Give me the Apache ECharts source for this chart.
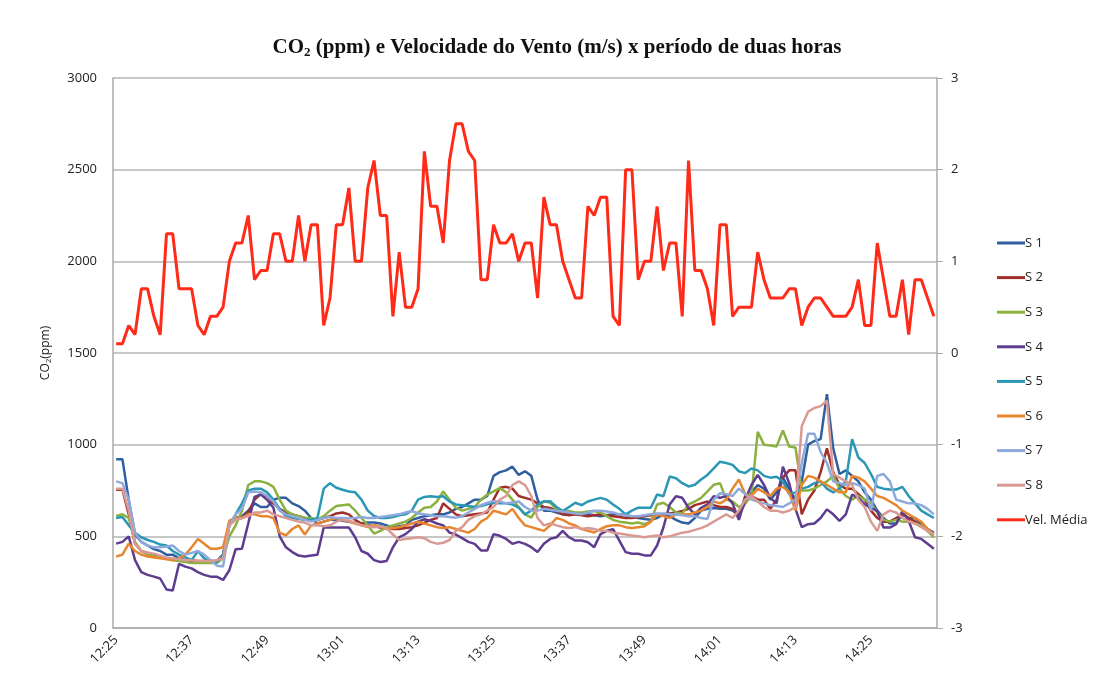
<!DOCTYPE html>
<html>
<head>
<meta charset="utf-8">
<script src="https://cdn.jsdelivr.net/npm/echarts@6/dist/echarts.min.js"></script>
<style>
html,body{margin:0;padding:0;background:#fff;}
#chart{width:1114px;height:686px;}
</style>
</head>
<body>
<div id="chart"></div>
<script>
// Categories: one per minute from 12:25 to 14:35
var times = [];
(function(){ for (var m = 12*60+25; m <= 14*60+35; m++) { var h = Math.floor(m/60), mm = m%60; times.push(h + ':' + (mm<10?'0':'') + mm); } })();

var seriesNames = ['S 1','S 2','S 3','S 4','S 5','S 6','S 7','S 8','Vel. Média'];

var s1 = [920,920,700,510,470,450,430,420,400,400,380,370,365,360,360,360,360,400,560,600,610,640,680,660,660,700,710,710,680,665,640,600,
570,580,590,590,585,580,575,570,575,575,570,560,550,555,560,590,600,610,615,620,620,630,650,660,680,700,700,720,830,850,860,880,
835,855,830,700,640,640,630,620,620,620,625,620,615,610,615,620,620,615,610,600,595,590,600,620,610,590,575,570,600,640,650,655,650,
650,640,620,680,740,780,760,700,740,820,760,700,800,1000,1020,1030,1275,980,840,860,830,800,740,700,640,600,570,570,620,600,600,570,540,520];

var s2 = [754,754,620,460,420,410,400,390,380,375,370,370,370,365,365,365,365,400,580,600,600,630,700,730,720,680,650,630,620,610,600,590,
590,600,610,625,630,620,590,570,560,555,548,545,540,540,545,550,560,575,590,600,680,650,620,610,615,620,625,630,700,765,770,760,
720,710,700,680,660,655,640,620,615,620,615,610,615,620,615,610,605,600,600,605,610,615,620,620,625,630,638,650,670,680,690,670,660,
660,650,600,720,720,700,700,650,700,820,860,860,620,700,750,850,980,850,780,760,760,730,700,640,600,580,580,600,620,600,580,560,530,510];

var s3 = [611,620,600,470,420,400,390,385,380,370,365,360,355,355,355,355,355,380,500,560,640,780,800,800,790,770,700,640,620,610,600,600,
590,610,640,665,670,674,640,600,560,515,530,550,560,570,580,600,630,656,660,690,745,700,656,640,650,660,700,728,745,763,740,700,
660,620,602,660,692,683,650,640,638,630,630,635,638,630,610,590,580,575,570,575,566,580,674,683,660,630,625,674,690,710,745,781,790,
700,690,660,680,720,1070,1000,995,990,1078,990,985,750,750,760,780,800,830,760,720,700,720,700,680,630,590,580,590,580,580,570,560,530,495];

var s4 = [460,470,500,370,305,290,280,270,210,205,350,335,325,305,290,280,280,262,315,430,432,570,715,728,700,656,500,440,414,395,390,396,
400,548,548,548,548,548,495,420,405,370,360,365,440,495,512,540,580,593,584,570,560,520,510,490,470,459,423,423,512,503,486,459,
470,459,441,414,459,486,495,530,495,477,477,468,441,512,530,539,477,414,405,405,396,396,450,548,674,719,710,656,620,656,674,719,710,
720,680,590,700,780,835,780,710,680,880,790,650,550,566,570,600,647,620,584,620,728,710,674,656,638,548,548,566,638,584,495,486,459,432];

var s5 = [600,605,560,520,495,480,470,455,450,420,400,385,370,420,380,365,360,400,560,620,680,750,760,760,740,700,650,610,600,595,590,590,
600,760,790,765,754,745,740,700,640,611,600,600,605,615,620,640,700,715,719,715,719,690,674,670,665,660,665,675,683,680,680,674,
656,620,640,674,690,692,660,638,660,683,670,690,700,710,700,674,650,620,640,656,656,656,728,719,826,817,790,772,781,810,835,871,907,
900,890,855,845,870,860,830,820,825,800,730,740,760,770,790,800,760,740,760,800,1030,930,900,840,770,760,755,755,770,720,680,640,620,600];

var s6 = [390,400,460,420,400,390,385,380,375,370,380,400,440,485,460,432,432,440,585,600,600,620,620,610,610,600,520,505,540,560,510,560,
570,580,590,600,590,580,570,560,550,560,555,540,545,550,560,570,580,570,560,550,545,550,540,530,520,540,580,600,640,630,620,650,
600,560,550,540,530,560,600,590,570,560,540,530,521,540,555,560,560,550,545,550,555,580,620,610,600,620,620,620,630,640,660,690,680,
700,760,810,730,720,760,740,720,760,770,740,640,780,830,820,800,780,760,740,740,830,820,800,760,720,710,690,670,640,620,600,580,540,510];

var s7 = [800,790,700,520,470,450,440,440,445,450,420,400,410,420,400,370,340,335,560,620,650,740,745,740,720,690,640,620,610,600,590,580,
590,600,605,600,600,598,600,605,600,600,605,610,615,620,630,638,625,620,615,610,610,605,602,610,630,650,670,683,692,690,680,685,
690,660,640,640,650,645,640,635,630,625,620,630,640,640,635,630,620,615,610,610,615,620,625,625,620,620,615,610,610,600,595,700,735,
730,720,760,730,700,690,680,670,665,660,680,700,900,1060,1060,960,900,800,790,780,790,780,760,640,830,840,800,700,690,680,680,670,650,620];

var s8 = [760,760,640,460,420,410,405,395,385,380,375,370,370,365,365,365,370,380,560,590,600,610,630,630,640,620,610,600,590,580,575,560,
560,555,560,580,590,585,575,560,555,550,555,545,510,480,485,490,495,490,470,460,465,480,530,550,590,610,620,640,660,700,720,780,
800,780,720,600,560,570,560,550,545,550,540,545,540,530,530,520,515,510,505,500,495,500,505,495,500,510,520,525,535,545,560,580,600,
620,600,640,700,720,690,660,640,640,630,640,660,1100,1180,1200,1210,1240,840,820,800,780,700,660,580,530,620,640,630,600,580,570,550,530,510];

var velMedia = [0.1,0.1,0.3,0.2,0.7,0.7,0.4,0.2,1.3,1.3,0.7,0.7,0.7,0.3,0.2,0.4,0.4,0.5,1.0,1.2,1.2,1.5,0.8,0.9,0.9,1.3,1.3,1.0,1.0,1.5,1.0,1.4,1.4,
0.3,0.6,1.4,1.4,1.8,1.0,1.0,1.8,2.1,1.5,1.5,0.4,1.1,0.5,0.5,0.7,2.2,1.6,1.6,1.2,2.1,2.5,2.5,2.2,2.1,0.8,0.8,1.4,1.2,1.2,1.3,1.0,
1.2,1.2,0.6,1.7,1.4,1.4,1.0,0.8,0.6,0.6,1.6,1.5,1.7,1.7,0.4,0.3,2.0,2.0,0.8,1.0,1.0,1.6,0.9,1.2,1.2,0.4,2.1,0.9,0.9,0.7,0.3,1.4,1.4,
0.4,0.5,0.5,0.5,1.1,0.8,0.6,0.6,0.6,0.7,0.7,0.3,0.5,0.6,0.6,0.5,0.4,0.4,0.4,0.5,0.8,0.3,0.3,1.2,0.8,0.4,0.4,0.8,0.2,0.8,0.8,0.6,0.4];

var leftTicks = {min:0, max:3000, interval:500};
var rightTicks = {min:-3, max:3, interval:1};

var colors = ['#2F5F9E','#A22E29','#8BB13E','#5E3D8F','#2A98B4','#E8862F','#8EA9DB','#DA9A94','#FF2A17'];
var data = [s1,s2,s3,s4,s5,s6,s7,s8];

var series = [];
for (var k = 0; k < 8; k++) {
  series.push({
    name: seriesNames[k], type: 'line', yAxisIndex: 0, data: data[k],
    symbol: 'none', lineStyle: {width: 2.5, color: colors[k]}, itemStyle: {color: colors[k]},
    animation: false
  });
}
series.push({
  name: seriesNames[8], type: 'line', yAxisIndex: 1, data: velMedia,
  symbol: 'none', lineStyle: {width: 3, color: colors[8]}, itemStyle: {color: colors[8]},
  animation: false, z: 5
});

var chart = echarts.init(document.getElementById('chart'), null, {renderer: 'canvas'});
chart.setOption({
  backgroundColor: '#ffffff',
  animation: false,
  title: {
    text: '{a|CO}{s|2}{a| (ppm) e Velocidade do Vento (m/s) x período de duas horas}',
    left: 'center', top: 31,
    textStyle: {
      rich: {
        a: {fontFamily: 'Liberation Serif', fontWeight: 'bold', fontSize: 21, color: '#111'},
        s: {fontFamily: 'Liberation Serif', fontWeight: 'bold', fontSize: 13, color: '#111', verticalAlign: 'bottom', padding: [10,0,0,0]}
      }
    }
  },
  legend: {
    orient: 'vertical', left: 992, top: 230,
    icon: 'rect', itemWidth: 28, itemHeight: 3, itemGap: 18.6,
    textStyle: {fontFamily: 'Open Sans', fontSize: 13, color: '#222', lineHeight: 16, padding: [0,0,0,-5]},
    data: seriesNames
  },
  grid: {left: 113, right: 177, top: 78, bottom: 58, containLabel: false},
  xAxis: {
    type: 'category', data: times, boundaryGap: true,
    axisLine: {lineStyle: {color: '#AAAAAA', width: 1.5}},
    axisTick: {show: false},
    axisLabel: {interval: 11, rotate: 45, fontFamily: 'Open Sans', fontSize: 13, color: '#222', margin: 10},
    splitLine: {show: false}
  },
  yAxis: [{
    type: 'value', min: leftTicks.min, max: leftTicks.max, interval: leftTicks.interval,
    name: '{a|CO}{s|2}{a|(ppm)}', nameLocation: 'middle', nameGap: 60, nameRotate: 90,
    nameTextStyle: {rich: {
      a: {fontFamily: 'Open Sans', fontSize: 12, color: '#222'},
      s: {fontFamily: 'Open Sans', fontSize: 8, color: '#222', verticalAlign: 'bottom', padding: [6,0,0,0]}
    }},
    axisLine: {show: true, lineStyle: {color: '#AAAAAA', width: 1.5}},
    axisTick: {show: false},
    axisLabel: {fontFamily: 'Open Sans', fontSize: 13, color: '#222', margin: 16, formatter: function(v){ return String(v); }},
    splitLine: {show: true, lineStyle: {color: '#B5B5B5', width: 1.5}}
  }, {
    type: 'value', min: rightTicks.min, max: rightTicks.max, interval: rightTicks.interval, position: 'right',
    axisLine: {show: true, lineStyle: {color: '#AAAAAA', width: 1.5}},
    axisTick: {show: true, length: 6, lineStyle: {color: '#AAAAAA'}},
    axisLabel: {fontFamily: 'Open Sans', fontSize: 13, color: '#222', margin: 14, formatter: function(v){ return String(v); }},
    splitLine: {show: false}
  }],
  series: series
});
</script>
</body>
</html>
